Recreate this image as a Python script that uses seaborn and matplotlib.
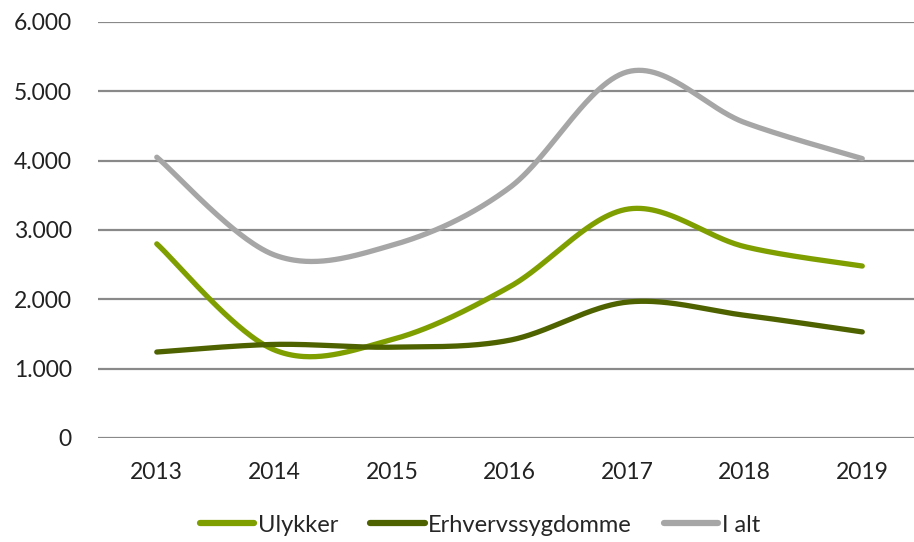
import numpy as np
import pandas as pd
import matplotlib
matplotlib.use("Agg")
import matplotlib.pyplot as plt
import seaborn as sns
from matplotlib.ticker import FuncFormatter

years = [2013, 2014, 2015, 2016, 2017, 2018, 2019]
ulykker = [2800, 1270, 1420, 2180, 3300, 2760, 2480]
erhverv = [1240, 1350, 1310, 1410, 1960, 1770, 1530]
i_alt = [4050, 2640, 2780, 3610, 5280, 4550, 4030]
series_names = ["Ulykker", "Erhvervssygdomme", "I alt"]
colors = ["#7F9F00", "#4F6200", "#A6A6A6"]


def smooth(xs, ys, n=60):
    # Bezier (Catmull-Rom style) smoothing, like a spreadsheet "smoothed line"
    xs = np.asarray(xs, float)
    ys = np.asarray(ys, float)
    P = np.column_stack([xs, ys])
    Pe = np.vstack([P[0], P, P[-1]])
    out = []
    for i in range(len(P) - 1):
        p0, p1, p2, p3 = Pe[i], Pe[i + 1], Pe[i + 2], Pe[i + 3]
        c1 = p1 + (p2 - p0) / 6.0
        c2 = p2 - (p3 - p1) / 6.0
        t = np.linspace(0, 1, n, endpoint=(i == len(P) - 2))[:, None]
        b = ((1 - t) ** 3) * p1 + 3 * ((1 - t) ** 2) * t * c1 + 3 * (1 - t) * t ** 2 * c2 + t ** 3 * p2
        out.append(b)
    return np.vstack(out)


sns.set_theme(style="white")
plt.rcParams["font.family"] = ["Lato", "DejaVu Sans"]

fig = plt.figure(figsize=(9.14, 5.42), dpi=100)
ax = fig.add_axes([98 / 914, 104 / 542, (914 - 98) / 914, 416 / 542])

xpos = np.arange(len(years))
frames = []
for name, vals in zip(series_names, [ulykker, erhverv, i_alt]):
    c = smooth(xpos, vals)
    frames.append(pd.DataFrame({"x": c[:, 0], "y": c[:, 1], "serie": name}))
df = pd.concat(frames, ignore_index=True)

for gy in range(0, 7000, 1000):
    ax.axhline(gy, color="#898989", lw=1.6, zorder=0)

sns.lineplot(data=df, x="x", y="y", hue="serie", palette=dict(zip(series_names, colors)),
             hue_order=series_names, sort=False, estimator=None,
             lw=3.8, ax=ax, legend=True, solid_capstyle="round")

ax.set_xlim(-0.5, 6.44)
ax.set_ylim(0, 6000)
ax.set_xticks(xpos)
ax.set_xticklabels([str(y) for y in years])
ax.set_yticks(range(0, 7000, 1000))
ax.yaxis.set_major_formatter(FuncFormatter(lambda v, p: f"{int(v):,}".replace(",", ".")))
ax.tick_params(axis="y", labelsize=16.5, colors="#222222", pad=19, length=0)
ax.tick_params(axis="x", labelsize=16.5, colors="#222222", pad=17, length=0)
ax.set_xlabel("")
ax.set_ylabel("")
for s in ax.spines.values():
    s.set_visible(False)

handles, labels = ax.get_legend_handles_labels()
leg = ax.legend(handles, labels, loc="center", bbox_to_anchor=(480 / 914, 17 / 542),
                bbox_transform=fig.transFigure, ncol=3, frameon=False, fontsize=17,
                handlelength=2.3, handletextpad=0.15, columnspacing=1.35)
for h in leg.get_lines():
    h.set_linewidth(4.5)
    h.set_solid_capstyle("round")

fig.savefig("out.png", dpi=100)
